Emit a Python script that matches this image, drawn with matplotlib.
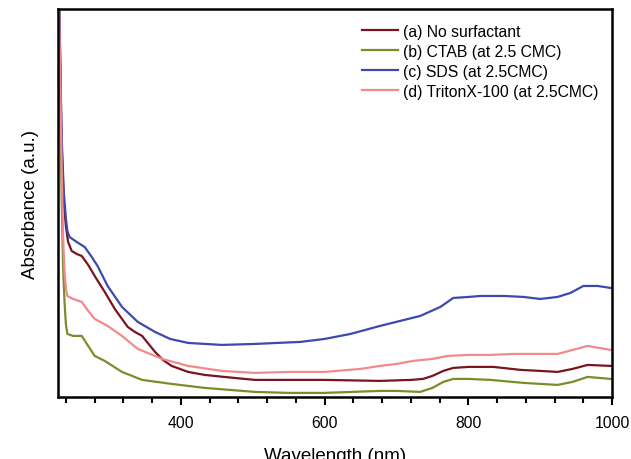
import matplotlib
matplotlib.use('Agg')
import matplotlib.pyplot as plt
from matplotlib.ticker import MultipleLocator

plt.rcParams['font.family'] = ['Liberation Sans', 'DejaVu Sans']

# (a) No surfactant
wl_a = [230, 234, 237, 240, 243, 248, 255, 262, 271, 280, 294, 308, 318, 326, 336, 346, 355,
        364, 375, 387, 410, 433, 460, 503, 550, 600, 677, 720, 737, 750, 765, 779, 800, 835,
        873, 900, 924, 945, 966, 998]
abs_a = [420, 250, 195, 170, 155, 146, 143, 141, 132, 121, 105, 88, 78, 70, 65, 61, 53,
         45, 37, 31, 25, 22, 20, 17, 17, 17, 16, 17, 18, 21, 26, 29, 30, 30,
         27, 26, 25, 28, 32, 31]

# (b) CTAB
wl_b = [230, 234, 236, 238, 240, 242, 250, 262, 270, 280, 294, 318, 346, 387, 433, 503,
        550, 600, 677, 700, 733, 750, 765, 779, 800, 831, 877, 924, 945, 966, 998]
abs_b = [400, 200, 130, 95, 72, 63, 61, 61, 52, 41, 36, 25, 17, 13, 9, 5,
         4, 4, 6, 6, 5, 9, 15, 18, 18, 17, 14, 12, 15, 20, 18]

# (c) SDS
wl_c = [230, 234, 237, 240, 242, 245, 255, 266, 275, 284, 298, 318, 340, 364, 385, 410, 457,
        503, 566, 600, 636, 677, 705, 733, 761, 779, 800, 817, 850, 877, 900, 924, 942,
        960, 980, 998]
abs_c = [420, 260, 205, 178, 166, 160, 155, 150, 141, 131, 111, 90, 75, 65, 58, 54, 52,
         53, 55, 58, 63, 71, 76, 81, 90, 99, 100, 101, 101, 100, 98, 100, 104,
         111, 111, 109]

# (d) TritonX-100
wl_d = [230, 234, 236, 238, 240, 242, 250, 262, 271, 280, 298, 318, 340, 374, 410, 457,
        503, 550, 600, 650, 677, 700, 723, 750, 771, 800, 830, 863, 900, 924, 945, 966, 998]
abs_d = [410, 230, 160, 125, 108, 101, 98, 95, 86, 78, 71, 61, 48, 38, 31, 26,
         24, 25, 25, 28, 31, 33, 36, 38, 41, 42, 42, 43, 43, 43, 47, 51, 47]

labels = ['(a) No surfactant', '(b) CTAB (at 2.5 CMC)', '(c) SDS (at 2.5CMC)',
          '(d) TritonX-100 (at 2.5CMC)']
colors = ['#7a1420', '#7d8c2a', '#3c4aae', '#f28a8c']

fig = plt.figure(figsize=(6.31, 4.60), dpi=100)
ax = fig.add_axes([0.092, 0.135, 0.878, 0.843])

for wl, ab, lab, col in zip([wl_a, wl_b, wl_c, wl_d], [abs_a, abs_b, abs_c, abs_d], labels, colors):
    ax.plot(wl, ab, color=col, lw=1.6, label=lab)

ax.set_xlim(229, 1000)
ax.set_ylim(0, 388)
ax.set_yticks([])
ax.xaxis.set_major_locator(MultipleLocator(200))
ax.xaxis.set_minor_locator(MultipleLocator(40))
ax.tick_params(axis='x', which='major', length=6, width=1.5, labelsize=11.3, pad=7)
ax.tick_params(axis='x', which='minor', length=4, width=1.5)
for sp in ax.spines.values():
    sp.set_linewidth(1.8)

ax.set_xlabel('Wavelength (nm)', fontsize=13.5, labelpad=12)
ax.set_ylabel('Absorbance (a.u.)', fontsize=13.5, labelpad=14)

ax.legend(loc='upper left', bbox_to_anchor=(0.549, 0.962), frameon=False, fontsize=11.3,
          handlelength=2.3, handletextpad=0.3, labelspacing=0.32, borderpad=0,
          borderaxespad=0)

fig.savefig('out.png', dpi=100)
